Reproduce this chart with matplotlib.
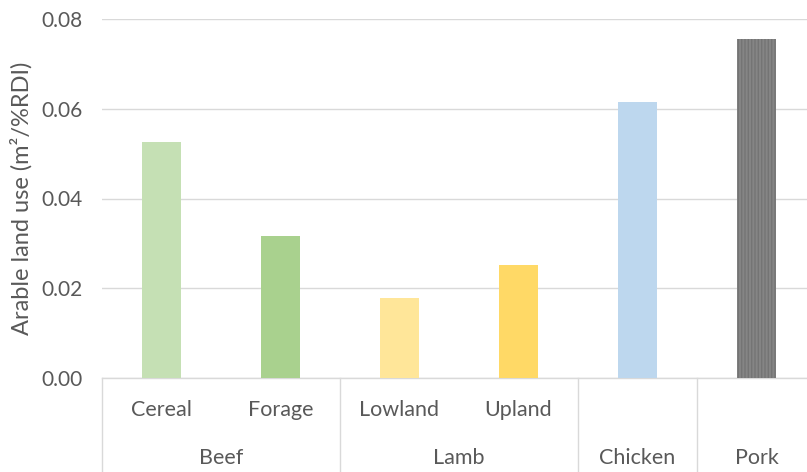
import numpy as np
import matplotlib
matplotlib.use("Agg")
import matplotlib.pyplot as plt

plt.rcParams['font.family'] = ['Lato', 'DejaVu Sans']
plt.rcParams['hatch.linewidth'] = 1.0

# data
sub_labels = ["Cereal", "Forage", "Lowland", "Upland", "", ""]
groups = ["Beef", "Lamb", "Chicken", "Pork"]
group_sizes = [2, 2, 1, 1]
values = [0.0526, 0.0316, 0.0178, 0.0252, 0.0615, 0.0755]
colors = ["#C5E0B4", "#A9D18E", "#FFE699", "#FFD966", "#BDD7EE", "#858585"]
hatches = ["", "", "", "", "", "|||||"]
yticks = [0.00, 0.02, 0.04, 0.06, 0.08]

txt = "#595959"
grid = "#D9D9D9"
fs = 15.5

fig = plt.figure(figsize=(8.07, 4.72), dpi=100)
W, H = 807, 472
ax = fig.add_axes([102 / W, (H - 378) / H, 714 / W, 359 / H])

x = np.arange(len(values))
for i in range(len(values)):
    ax.bar(x[i], values[i], width=0.32, color=colors[i], hatch=hatches[i],
           edgecolor="#747474" if hatches[i] else colors[i], linewidth=0, zorder=3)

ax.set_xlim(-0.5, len(values) - 0.5)
ax.set_ylim(0, 0.08)
ax.set_yticks(yticks)
ax.set_yticklabels(["%.2f" % v for v in yticks], color=txt, fontsize=15)
ax.tick_params(axis='y', length=0, pad=14)
ax.tick_params(axis='x', length=0, labelbottom=False)
ax.grid(axis='y', color=grid, linewidth=1, zorder=0)
for s in ["top", "right", "left"]:
    ax.spines[s].set_visible(False)
ax.spines["bottom"].set_color(grid)
ax.spines["bottom"].set_linewidth(1)
ax.set_ylabel("Arable land use (m²/%RDI)", color=txt, fontsize=17, labelpad=6)

# two-level category axis
tr = ax.get_xaxis_transform()
depth = (H - 378) / 359.0
for i, lab in enumerate(sub_labels):
    if lab:
        ax.text(x[i], -32 / 359.0, lab, transform=tr, ha="center", va="center",
                color=txt, fontsize=fs)
edges = np.concatenate([[0], np.cumsum(group_sizes)]) - 0.5
for e in edges:
    ax.plot([e, e], [0, -depth - 0.01], transform=tr, color=grid, linewidth=1,
            clip_on=False)
for g, a, b in zip(groups, edges[:-1], edges[1:]):
    ax.text((a + b) / 2, -80 / 359.0, g, transform=tr, ha="center", va="center",
            color=txt, fontsize=fs)

fig.savefig("out.png", dpi=100)
